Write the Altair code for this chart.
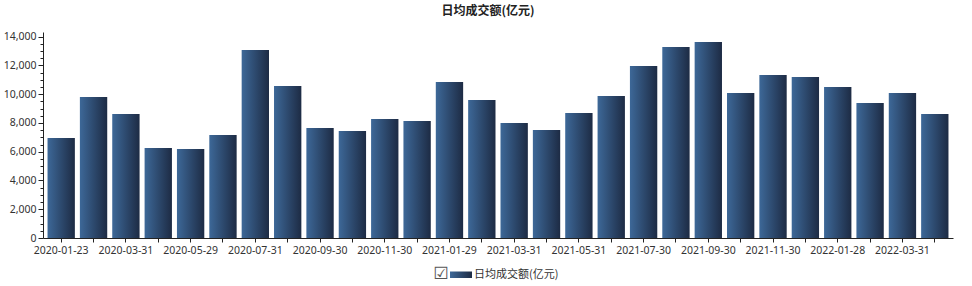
import altair as alt
import pandas as pd

dates = [
    "2020-01-23", "2020-02-28", "2020-03-31", "2020-04-30", "2020-05-29", "2020-06-30",
    "2020-07-31", "2020-08-31", "2020-09-30", "2020-10-30", "2020-11-30", "2020-12-31",
    "2021-01-29", "2021-02-26", "2021-03-31", "2021-04-30", "2021-05-31", "2021-06-30",
    "2021-07-30", "2021-08-31", "2021-09-30", "2021-10-29", "2021-11-30", "2021-12-31",
    "2022-01-28", "2022-02-28", "2022-03-31", "2022-04-29",
]
values = [
    6960, 9800, 8620, 6260, 6190, 7160,
    13070, 10570, 7650, 7440, 8275, 8140,
    10850, 9600, 8000, 7510, 8690, 9880,
    11960, 13280, 13630, 10080, 11340, 11200,
    10500, 9390, 10080, 8620,
]
series_name = "日均成交额(亿元)"
shown_labels = dates[::2]

df = pd.DataFrame({"date": dates, "value": values})

FONT = "Noto Sans"
CJK = "Noto Sans CJK SC"
grad = alt.Gradient(
    gradient="linear",
    stops=[alt.GradientStop(color="#3d6898", offset=0),
           alt.GradientStop(color="#1d2b44", offset=1)],
    x1=0, x2=1, y1=0, y2=0,
)

label_list = "[" + ",".join("'%s'" % d for d in shown_labels) + "]"

bars = alt.Chart(df).mark_bar(color=grad).encode(
    x=alt.X("date:O", sort=dates, title=None,
            scale=alt.Scale(paddingInner=0.155, paddingOuter=0.14),
            axis=alt.Axis(labelAngle=0, labelOverlap=False, tickSize=4,
                          labelExpr="indexof(%s, datum.value) >= 0 ? datum.value : ''" % label_list,
                          labelFont=FONT, labelFontSize=10.5, labelColor="#333333",
                          domainColor="#222222", tickColor="#222222", labelPadding=3)),
    y=alt.Y("value:Q", title=None,
            scale=alt.Scale(domain=[0, 14330], nice=False),
            axis=alt.Axis(values=list(range(0, 14001, 500)),
                          labelExpr="datum.value % 2000 === 0 ? format(datum.value, ',') : ''",
                          tickSize={"condition": {"test": "datum.value % 2000 === 0", "value": 5}, "value": 3},
                          labelFont=FONT, labelFontSize=10.5, labelColor="#333333",
                          domainColor="#222222", tickColor="#222222", labelPadding=2,
                          grid=False)),
)

one = pd.DataFrame({"k": [0]})
check = alt.Chart(one).mark_text(text="☑", font="DejaVu Sans", fontSize=17,
                                 color="#555555", align="center", baseline="middle").encode(
    x=alt.value(398), y=alt.value(242))
swatch = alt.Chart(one).mark_rect(color=grad).encode(
    x=alt.value(407), x2=alt.value(429), y=alt.value(239.5), y2=alt.value(246))
legend_text = alt.Chart(one).mark_text(text=series_name, font=CJK, fontSize=11,
                                       color="#333333", align="left", baseline="middle").encode(
    x=alt.value(431), y=alt.value(243))

chart = alt.layer(bars, check, swatch, legend_text).properties(
    width=910, height=206,
    title=alt.TitleParams(series_name, font=CJK, fontSize=12, fontWeight="bold",
                          color="#222222", anchor="middle", dx=-10, offset=14),
    autosize=alt.AutoSizeParams(type="none"),
    padding={"left": 43, "top": 32, "right": 19, "bottom": 48},
).configure_view(stroke=None)

chart.save("out.html", embed_options={"renderer": "svg", "actions": False})
